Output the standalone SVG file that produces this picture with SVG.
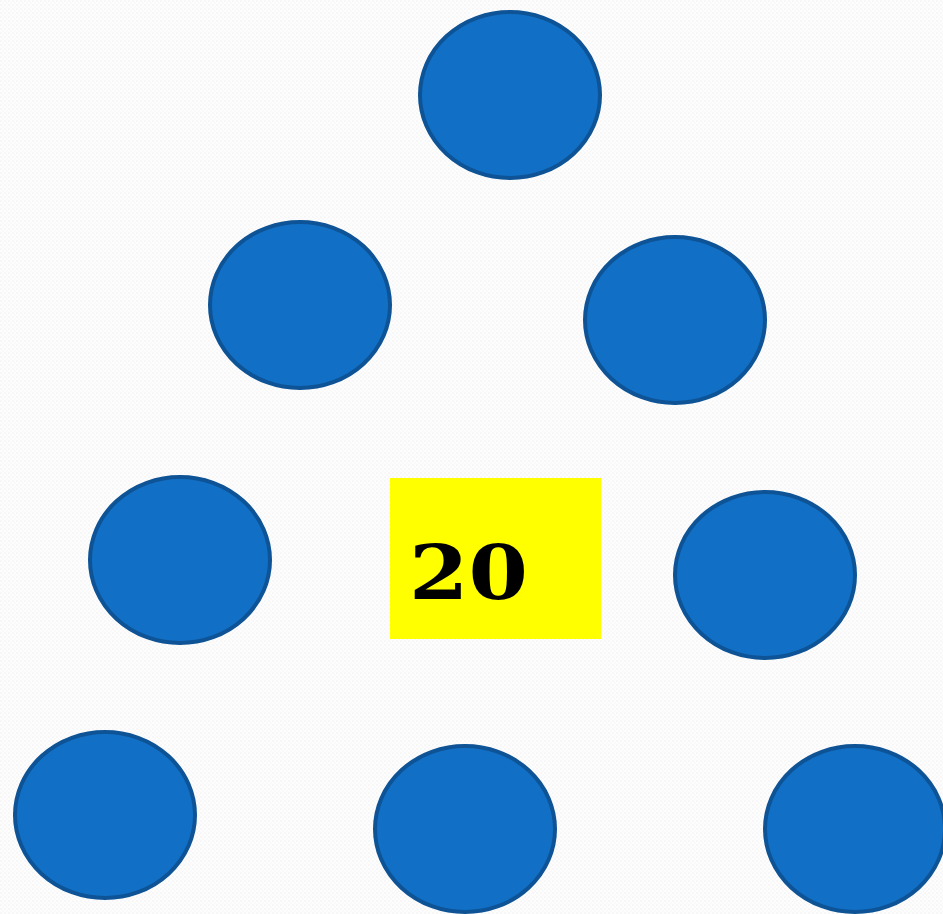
<svg xmlns="http://www.w3.org/2000/svg" width="943" height="914" viewBox="0 0 943 914">
  <defs>
    <pattern id="bg" width="4" height="4" patternUnits="userSpaceOnUse">
      <rect width="4" height="4" fill="#fdfdfd"/>
      <circle cx="1" cy="1" r="0.8" fill="#f1f1f1"/>
      <circle cx="3" cy="3" r="0.8" fill="#f4f4f4"/>
    </pattern>
  </defs>
  <style>
    .node { fill: #1170c6; stroke: #0d5395; stroke-width: 4; }
    .label { font-family: "DejaVu Serif", "Liberation Serif", serif; font-weight: bold; font-size: 74px; fill: #000000; }
  </style>
  <rect width="943" height="914" fill="url(#bg)"/>
  <g id="connectors"></g>
  <g id="n1"><ellipse class="node" cx="510" cy="95" rx="90" ry="83"/></g>
  <g id="n2"><ellipse class="node" cx="300" cy="305" rx="90" ry="83"/></g>
  <g id="n3"><ellipse class="node" cx="675" cy="320" rx="90" ry="83"/></g>
  <g id="n4"><ellipse class="node" cx="180" cy="560" rx="90" ry="83"/></g>
  <g id="n5"><ellipse class="node" cx="765" cy="575" rx="90" ry="83"/></g>
  <g id="n6"><ellipse class="node" cx="105" cy="815" rx="90" ry="83"/></g>
  <g id="n7"><ellipse class="node" cx="465" cy="829" rx="90" ry="83"/></g>
  <g id="n8"><ellipse class="node" cx="855" cy="829" rx="90" ry="83"/></g>
  <g id="center">
    <rect x="390" y="478" width="211" height="161" fill="#ffff00"/>
    <text class="label" x="409" y="599" textLength="119" lengthAdjust="spacingAndGlyphs">20</text>
  </g>
</svg>
